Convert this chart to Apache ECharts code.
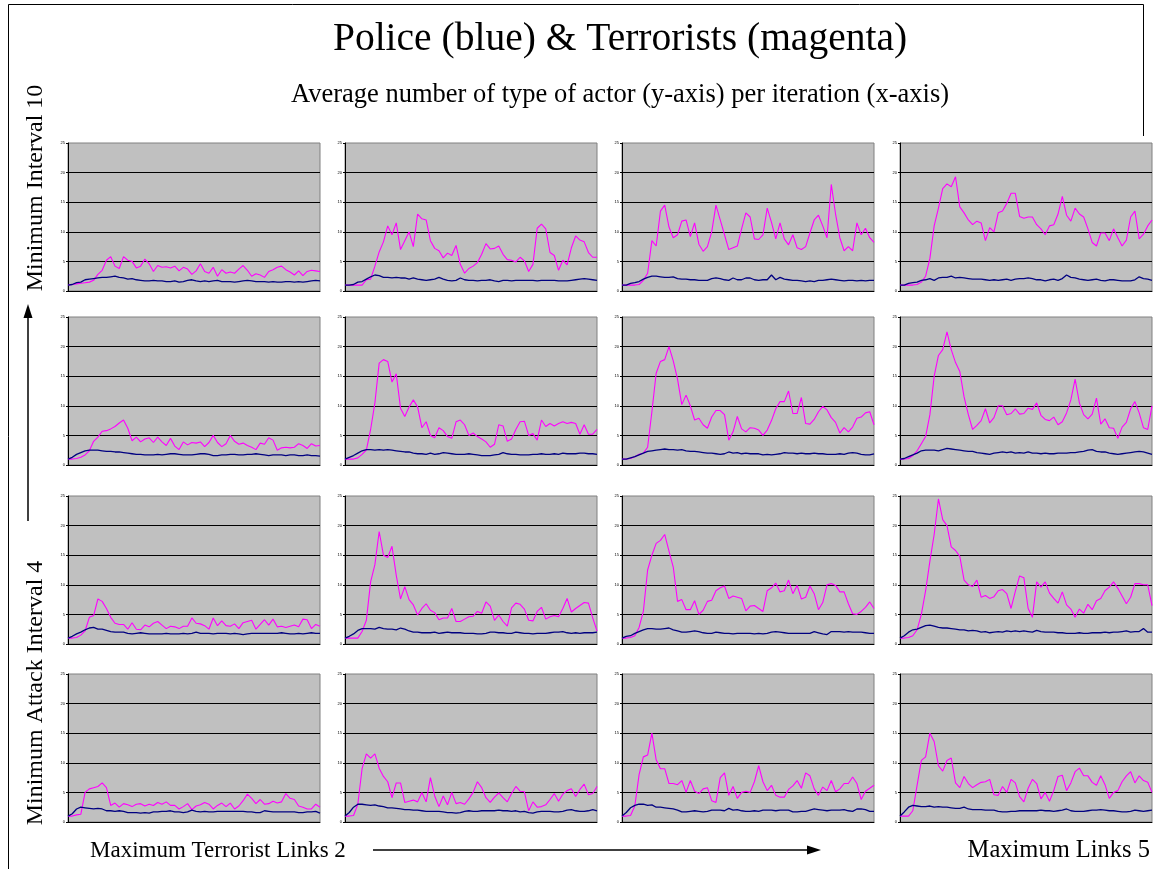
<!DOCTYPE html>
<html>
<head>
<meta charset="utf-8">
<title>Police & Terrorists</title>
<script src="https://cdn.jsdelivr.net/npm/echarts@6/dist/echarts.min.js"></script>
<style>
  html, body { margin: 0; padding: 0; background: #fff; }
  #chart { width: 1153px; height: 869px; }
</style>
</head>
<body>
<div id="chart"></div>
<script>
// y-axis ticks shared by every small chart
var yTicks = [0, 5, 10, 15, 20, 25];

// terrorists (magenta) and police (blue), rows top -> bottom, columns left -> right
var terr_r1c1 = [1.0,1.1,1.2,1.3,1.4,1.5,1.8,2.8,3.5,5.2,5.8,4.2,3.8,5.8,5.2,5.0,3.9,4.2,5.4,4.6,3.3,4.3,4.0,4.1,3.9,4.2,3.4,4.0,3.7,2.8,3.4,4.6,3.3,3.0,4.0,2.5,3.6,3.0,3.2,3.0,3.7,4.3,3.5,2.5,2.9,2.7,2.3,3.3,3.6,4.0,4.2,3.6,3.2,2.7,3.4,2.6,3.3,3.5,3.4,3.3];
var pol_r1c1 = [1.0,1.1,1.4,1.5,1.9,2.0,2.1,2.2,2.3,2.3,2.4,2.5,2.3,2.2,2.0,2.1,1.9,1.8,1.7,1.7,1.8,1.7,1.7,1.6,1.6,1.7,1.5,1.6,1.8,1.9,1.7,1.6,1.7,1.6,1.7,1.8,1.6,1.6,1.6,1.5,1.6,1.7,1.8,1.7,1.6,1.6,1.6,1.5,1.6,1.5,1.5,1.6,1.6,1.5,1.6,1.5,1.6,1.7,1.8,1.7];

var terr_r1c2 = [1.0,1.0,1.0,1.0,1.0,1.9,2.0,4.2,6.6,8.3,11.0,9.5,11.5,7.0,8.5,10.0,7.5,13.0,12.2,12.0,8.5,7.2,6.8,5.6,6.4,6.0,7.7,4.5,3.0,3.8,4.2,4.8,6.2,8.0,7.1,7.2,7.6,6.2,5.3,5.2,4.9,5.7,5.1,3.3,4.5,10.6,11.3,10.5,6.5,6.0,3.5,5.2,4.4,7.3,9.3,8.6,8.3,6.5,5.7,5.7];
var pol_r1c2 = [1.0,1.0,1.1,1.5,1.6,2.0,2.4,2.7,2.6,2.3,2.3,2.2,2.3,2.2,2.2,2.0,2.2,2.0,1.9,1.8,1.9,2.0,2.3,2.0,1.8,1.7,1.8,2.2,1.9,1.8,1.8,1.7,1.8,1.8,1.9,1.7,1.6,1.8,1.8,1.7,1.8,1.8,1.8,1.8,1.8,1.7,1.8,1.8,1.8,1.8,1.7,1.7,1.7,1.8,1.9,2.0,2.1,2.0,1.9,1.8];

var terr_r1c3 = [1.0,1.0,1.0,1.0,1.1,1.8,3.0,8.5,7.6,13.5,14.5,10.8,9.0,9.5,11.8,12.0,9.2,11.5,7.9,6.7,7.5,10.0,14.5,12.0,9.5,7.0,7.3,7.6,10.5,13.2,12.5,8.8,8.7,9.5,14.0,11.6,8.8,11.5,8.8,7.8,9.5,7.3,7.0,7.5,9.8,12.0,12.8,11.0,9.0,18.0,13.0,9.0,6.8,7.5,6.8,11.5,9.5,10.6,9.0,8.2];
var pol_r1c3 = [1.0,1.0,1.3,1.4,1.6,2.0,2.3,2.5,2.5,2.4,2.3,2.3,2.4,2.1,2.0,2.0,1.9,1.9,1.8,1.8,1.8,2.1,2.2,2.1,1.9,1.8,2.2,1.9,1.9,2.2,2.2,1.9,1.8,1.9,1.9,2.7,1.9,2.3,2.0,1.9,1.8,1.8,1.7,1.6,1.7,1.6,1.8,1.8,1.9,2.0,1.9,1.8,1.7,1.8,1.8,1.7,1.8,1.7,1.8,1.8];

var terr_r1c4 = [1.0,1.0,1.0,1.0,1.1,1.5,2.5,5.5,11.0,14.0,17.3,18.1,17.6,19.3,14.2,13.2,12.0,11.2,11.8,11.5,8.5,10.7,10.0,13.2,13.5,14.8,16.5,16.5,12.6,12.3,12.5,12.5,11.2,10.5,9.5,11.0,11.2,13.0,16.0,12.8,11.8,14.0,13.0,12.5,10.5,8.2,7.6,9.8,9.8,8.5,10.5,9.0,7.6,8.6,12.5,13.5,8.8,9.6,11.0,12.0];
var pol_r1c4 = [1.0,1.0,1.3,1.4,1.5,1.8,1.9,2.1,1.8,2.2,2.3,2.3,2.5,2.2,2.3,2.2,2.1,2.0,2.0,2.0,1.9,1.8,1.9,1.8,1.9,2.0,1.8,2.0,2.1,2.1,2.2,2.1,1.9,1.9,1.7,1.9,2.0,1.8,2.1,2.7,2.3,2.2,2.0,1.9,1.8,1.9,2.0,1.8,1.7,1.9,1.9,1.8,1.7,1.7,1.7,1.9,2.4,2.1,2.0,1.8];

var terr_r2c1 = [1.0,1.0,1.1,1.3,1.7,2.4,4.0,4.7,5.7,5.8,6.1,6.5,7.1,7.6,6.2,4.1,4.7,3.9,4.4,4.6,3.8,4.7,3.9,3.3,4.5,3.2,2.6,3.9,3.4,3.8,3.7,3.9,3.1,3.8,5.0,3.8,3.1,3.6,5.0,4.0,3.5,3.7,3.3,3.0,2.6,3.7,3.5,4.6,4.2,2.5,2.9,3.0,2.9,3.0,3.6,3.3,2.8,3.6,3.2,3.3];
var pol_r2c1 = [1.0,1.3,1.8,2.1,2.4,2.5,2.5,2.5,2.4,2.3,2.3,2.2,2.2,2.1,2.0,1.9,1.8,1.8,1.7,1.7,1.7,1.8,1.7,1.8,1.9,1.9,1.8,1.7,1.7,1.7,1.8,1.9,1.9,1.8,1.6,1.6,1.7,1.7,1.8,1.8,1.7,1.7,1.8,1.8,1.9,1.8,1.7,1.6,1.7,1.7,1.7,1.6,1.7,1.7,1.6,1.6,1.7,1.6,1.6,1.5];

var terr_r2c2 = [1.0,1.0,1.0,1.2,1.8,2.5,6.0,10.5,17.2,17.8,17.5,14.0,15.4,9.6,8.2,9.8,11.0,9.8,6.3,7.3,5.0,4.6,6.3,5.8,4.8,4.5,7.3,7.6,6.8,5.0,5.4,4.8,4.4,3.9,3.0,3.5,6.8,6.6,4.0,4.4,6.0,7.3,7.4,5.0,5.3,4.2,7.6,6.5,7.0,6.6,7.0,7.3,7.0,7.2,7.0,5.2,6.8,5.2,5.2,6.0];
var pol_r2c2 = [1.0,1.3,1.6,2.0,2.4,2.6,2.6,2.5,2.6,2.5,2.6,2.5,2.4,2.3,2.2,2.2,2.0,1.9,1.9,1.8,2.0,1.8,1.9,2.1,2.0,1.9,1.8,1.8,1.8,1.9,1.8,1.7,1.6,1.6,1.6,1.7,1.8,2.1,1.9,1.8,1.8,1.7,1.7,1.7,1.8,1.8,1.9,1.8,1.8,1.9,1.8,2.0,1.9,1.9,1.9,2.0,2.0,1.9,1.9,1.8];

var terr_r2c3 = [1.0,1.0,1.1,1.4,1.8,2.0,3.0,9.0,15.5,17.5,17.8,20.0,17.6,14.5,10.2,11.8,10.0,7.6,7.9,6.8,6.2,8.1,9.2,9.2,8.5,4.2,5.6,8.2,6.1,5.6,6.3,6.2,5.9,5.0,5.9,7.5,9.5,10.7,10.7,12.5,8.7,8.7,11.4,7.0,6.9,7.7,9.0,9.9,9.3,8.0,7.2,5.4,6.3,5.6,6.4,7.9,8.1,8.8,9.0,6.8];
var pol_r2c3 = [1.0,1.0,1.2,1.4,1.7,2.0,2.3,2.4,2.5,2.6,2.7,2.6,2.6,2.5,2.6,2.4,2.3,2.3,2.2,2.1,2.0,2.0,1.9,1.8,1.9,2.2,2.0,2.1,1.9,2.0,1.9,1.9,1.9,1.7,1.8,1.7,1.8,1.9,2.1,2.0,2.0,1.9,2.0,1.9,1.9,2.0,1.9,1.9,1.8,1.8,1.8,1.9,1.8,2.0,2.1,2.0,1.8,1.7,1.7,1.9];

var terr_r2c4 = [1.0,1.0,1.1,1.6,2.4,3.6,4.8,8.5,15.0,18.5,19.5,22.5,19.5,17.3,15.8,11.5,8.5,6.0,6.7,7.5,9.5,7.1,8.0,10.0,10.0,8.5,8.7,9.5,8.6,8.7,9.6,9.4,10.5,8.4,7.7,7.5,8.1,6.8,7.3,8.8,11.0,14.5,10.5,8.5,7.8,8.6,11.3,6.9,7.8,6.3,6.2,4.5,6.4,7.2,9.5,10.7,8.8,6.3,6.0,10.0];
var pol_r2c4 = [1.0,1.1,1.4,1.7,2.0,2.4,2.5,2.5,2.5,2.4,2.6,2.8,2.7,2.6,2.5,2.4,2.3,2.3,2.1,2.0,1.9,1.8,2.0,2.1,2.2,2.1,2.2,2.0,2.1,2.0,2.2,2.0,2.0,1.9,2.0,1.9,1.9,2.0,2.0,2.0,2.1,2.1,2.2,2.3,2.5,2.6,2.3,2.2,2.2,2.0,1.9,1.8,1.9,2.0,2.1,2.2,2.3,2.2,2.0,1.8];

var terr_r3c1 = [1.0,1.0,1.1,1.5,2.2,4.5,4.8,7.6,7.2,6.0,4.5,3.5,3.3,3.3,2.5,3.6,2.5,2.4,3.2,2.9,3.5,3.8,3.2,2.6,3.0,2.9,2.6,3.0,3.0,4.4,3.5,3.4,3.1,2.5,4.4,3.1,3.9,3.1,3.0,3.4,2.6,3.6,3.8,4.0,2.5,3.3,4.1,3.2,4.2,2.9,3.0,2.8,3.0,3.2,2.9,4.2,4.1,2.6,3.3,3.0];
var pol_r3c1 = [1.0,1.3,1.7,2.0,2.4,2.7,2.8,2.5,2.5,2.3,2.1,2.0,2.0,2.0,1.8,1.7,1.8,1.9,1.8,1.7,1.7,1.7,1.7,1.8,1.7,1.7,1.7,1.8,1.7,1.8,2.0,1.8,1.8,1.8,1.7,1.8,1.8,1.8,1.7,1.8,1.7,1.6,1.7,1.8,1.8,1.8,1.8,1.8,1.8,1.8,1.9,1.8,1.7,1.7,1.8,1.7,1.8,1.9,1.8,1.8];

var terr_r3c2 = [1.0,1.0,1.0,1.0,2.1,4.0,10.5,13.4,19.0,15.0,14.6,16.5,11.6,7.6,9.7,7.5,6.6,4.9,6.0,6.8,5.7,5.3,4.1,4.4,4.4,6.0,3.8,3.8,4.2,4.6,4.7,5.5,5.2,7.1,6.4,4.0,4.9,3.8,3.0,6.1,6.9,6.7,5.9,4.0,3.9,5.5,6.2,4.2,4.6,4.8,4.6,6.0,7.7,5.4,6.0,6.5,7.0,6.9,4.4,2.2];
var pol_r3c2 = [1.0,1.3,1.7,2.3,2.6,2.6,2.6,2.5,2.8,2.6,2.5,2.5,2.4,2.7,2.5,2.2,2.0,2.0,1.9,1.9,1.9,2.0,1.8,1.9,2.0,1.9,1.9,1.9,1.8,1.8,1.8,1.7,1.7,1.8,2.0,2.0,1.9,1.9,1.8,1.8,2.0,1.9,1.8,1.8,1.7,1.8,1.8,1.8,1.9,2.0,2.0,2.1,1.9,1.8,1.9,1.8,1.9,1.9,1.9,2.0];

var terr_r3c3 = [1.0,1.0,1.1,1.4,2.8,5.5,12.5,15.0,17.0,17.5,18.5,15.7,13.0,7.2,7.5,5.8,5.8,7.3,5.0,5.7,7.2,7.4,9.0,9.5,9.8,7.7,8.1,7.9,7.7,5.6,6.4,6.5,6.0,5.5,9.0,9.5,10.3,8.8,9.0,10.8,8.5,9.9,7.6,7.9,9.8,8.5,5.8,7.0,10.0,10.2,9.9,8.8,8.8,6.8,5.1,5.0,5.5,6.2,7.1,6.0];
var pol_r3c3 = [1.0,1.3,1.4,1.8,2.1,2.4,2.6,2.6,2.5,2.5,2.6,2.7,2.4,2.2,2.0,2.0,2.1,2.2,2.1,1.9,1.8,1.8,2.0,1.9,1.8,1.8,1.7,1.8,1.8,1.8,1.8,1.7,1.8,1.7,1.8,2.0,2.1,2.0,1.9,1.8,1.8,1.8,1.8,1.8,1.8,2.1,1.9,1.7,1.6,2.1,2.1,2.1,2.0,2.1,2.0,2.0,2.0,1.9,1.8,1.8];

var terr_r3c4 = [1.0,1.0,1.1,1.4,2.4,5.0,9.0,14.0,18.5,24.5,21.0,20.0,16.4,15.8,14.8,10.8,10.0,9.7,10.8,7.9,8.2,7.7,8.0,9.0,9.2,8.5,6.0,8.9,11.5,11.2,6.0,4.5,10.5,9.6,10.5,8.6,7.7,6.9,8.8,6.6,5.9,4.5,5.9,5.2,6.7,5.8,7.3,7.7,9.0,9.6,10.5,9.4,8.1,6.8,7.9,10.2,10.2,10.0,10.0,6.5];
var pol_r3c4 = [1.0,1.4,2.0,2.4,2.5,2.8,3.1,3.2,3.0,2.8,2.7,2.7,2.6,2.5,2.4,2.4,2.2,2.3,2.2,2.0,2.1,1.9,2.0,2.1,2.0,2.2,2.1,2.2,2.1,2.2,2.1,2.0,2.3,2.1,2.0,2.0,2.0,1.9,1.9,1.8,1.8,1.8,1.9,1.8,1.8,1.9,1.9,1.9,2.0,1.9,2.0,2.0,2.1,2.2,2.0,2.1,2.1,2.6,2.0,2.0];

var terr_r4c1 = [1.0,1.0,1.2,1.3,5.0,5.6,5.8,6.0,6.6,5.8,2.8,3.2,2.5,3.1,2.9,2.6,3.0,3.1,2.7,3.0,2.8,3.3,3.0,3.4,2.8,2.8,2.2,2.6,3.1,2.1,2.7,2.9,3.3,3.0,2.2,2.8,3.2,2.6,3.2,2.2,2.7,3.6,4.7,4.0,3.1,3.8,3.0,3.1,3.5,3.2,3.4,4.8,4.0,3.8,2.7,2.5,2.2,2.2,3.0,2.5];
var pol_r4c1 = [1.0,1.4,2.2,2.5,2.4,2.3,2.2,2.3,2.2,1.9,1.9,1.8,1.9,1.8,1.6,1.6,1.6,1.5,1.6,1.5,1.7,1.7,1.8,1.8,1.9,1.7,1.7,1.6,1.7,2.0,1.8,1.7,1.8,1.7,1.7,1.8,1.8,1.8,1.8,1.8,1.8,1.8,1.7,1.7,1.6,1.6,1.9,1.8,1.7,1.7,1.7,1.7,1.7,1.7,1.6,1.6,1.7,1.7,1.8,1.5];

var terr_r4c2 = [1.0,1.0,1.1,3.0,9.0,11.5,10.8,11.5,9.1,7.7,6.8,4.1,6.6,6.6,3.3,3.5,3.7,3.4,5.0,3.4,7.5,4.4,2.6,4.4,2.9,5.0,3.1,3.3,3.0,3.9,5.0,6.8,5.8,4.1,3.3,4.2,4.9,4.1,3.4,4.8,6.0,5.2,5.1,1.9,3.4,2.5,2.6,2.9,3.8,4.8,3.5,4.7,5.3,5.6,4.3,5.5,6.4,4.6,4.8,6.0];
var pol_r4c2 = [1.0,1.6,2.5,3.0,3.0,2.9,2.8,2.9,2.7,2.6,2.4,2.4,2.3,2.2,2.1,2.1,2.0,2.0,1.9,1.8,1.8,1.8,1.8,1.7,1.6,1.6,1.5,1.6,1.8,1.9,1.8,1.8,1.9,1.9,1.9,1.9,2.0,1.9,1.9,1.8,1.9,1.7,1.8,1.6,1.5,1.7,1.8,1.8,1.8,1.7,1.7,1.8,2.0,2.1,1.9,1.8,1.8,1.9,2.1,1.9];

var terr_r4c3 = [1.0,1.0,1.1,2.7,8.0,11.0,11.3,15.0,10.5,9.0,9.0,6.5,6.5,6.3,7.0,5.0,7.0,5.2,4.8,5.6,5.8,3.6,3.3,7.5,8.3,4.5,6.0,4.0,5.0,5.2,5.0,6.8,9.5,6.8,5.3,6.2,4.5,4.2,4.2,5.5,6.1,7.0,5.7,8.3,7.8,5.6,4.5,5.9,5.3,7.0,5.1,5.6,6.5,6.5,7.6,6.5,3.8,5.2,5.7,6.2];
var pol_r4c3 = [1.0,1.6,2.4,2.8,3.0,3.0,2.8,2.9,2.5,2.5,2.4,2.3,2.2,2.0,1.7,1.7,1.8,1.9,1.8,1.7,1.8,2.0,2.0,2.0,1.9,2.3,2.0,2.1,1.9,1.8,1.8,1.9,1.8,2.0,2.0,2.0,1.9,2.0,2.0,2.0,1.7,1.7,1.8,1.8,2.0,2.2,2.1,2.0,1.9,2.0,2.0,2.0,2.1,1.9,1.8,2.2,2.2,2.1,1.8,1.8];

var terr_r4c4 = [1.0,1.0,1.0,1.9,6.2,10.4,11.0,15.0,13.6,9.5,8.6,10.4,10.8,6.6,5.8,7.7,6.5,5.8,6.3,6.7,6.8,7.2,4.6,4.5,6.0,5.0,7.2,6.6,4.3,3.4,5.7,7.2,6.5,3.9,5.0,3.5,5.3,7.7,7.9,5.3,6.6,8.5,9.1,7.8,7.8,6.7,6.2,7.8,6.3,4.0,5.0,5.3,6.8,7.8,8.5,6.6,7.8,7.0,6.7,5.0];
var pol_r4c4 = [1.0,1.7,2.5,2.8,2.7,2.6,2.6,2.7,2.5,2.6,2.5,2.5,2.4,2.3,2.3,2.5,2.2,2.1,2.1,2.1,2.0,2.0,2.0,1.8,1.7,1.7,1.8,1.8,1.9,1.9,1.9,1.9,1.9,2.0,1.9,1.9,1.8,1.9,2.0,2.2,1.9,1.8,1.8,1.8,1.9,2.0,2.0,2.1,2.0,1.9,1.9,1.8,1.7,1.7,1.8,2.0,1.9,1.8,1.9,2.0];

var terrRows = [
    [terr_r1c1, terr_r1c2, terr_r1c3, terr_r1c4],
    [terr_r2c1, terr_r2c2, terr_r2c3, terr_r2c4],
    [terr_r3c1, terr_r3c2, terr_r3c3, terr_r3c4],
    [terr_r4c1, terr_r4c2, terr_r4c3, terr_r4c4]
];
var polRows = [
    [pol_r1c1, pol_r1c2, pol_r1c3, pol_r1c4],
    [pol_r2c1, pol_r2c2, pol_r2c3, pol_r2c4],
    [pol_r3c1, pol_r3c2, pol_r3c3, pol_r3c4],
    [pol_r4c1, pol_r4c2, pol_r4c3, pol_r4c4]
];

// iteration index for the category axis
var iterations = terr_r1c1.map(function (v, i) { return i; });

// panel layout (px)
var colLeft = [68, 345, 622, 900];
var rowTop = [143, 317, 496, 674];
var panelW = 252;
var panelH = 148;

var SERIF = '"Liberation Serif", "Times New Roman", serif';

var grids = [], xAxes = [], yAxes = [], series = [];

for (var r = 0; r < 4; r++) {
    for (var c = 0; c < 4; c++) {
        var idx = grids.length;
        grids.push({
            left: colLeft[c],
            top: rowTop[r],
            width: panelW,
            height: panelH,
            show: true,
            backgroundColor: '#C0C0C0',
            borderColor: '#808080',
            borderWidth: 1
        });
        xAxes.push({
            type: 'category',
            gridIndex: idx,
            data: iterations,
            boundaryGap: false,
            axisLine: { show: true, onZero: false, lineStyle: { color: '#000', width: 1 } },
            axisTick: { show: false },
            axisLabel: { show: false },
            splitLine: { show: false }
        });
        yAxes.push({
            type: 'value',
            gridIndex: idx,
            min: yTicks[0],
            max: yTicks[yTicks.length - 1],
            interval: 5,
            axisLine: { show: true, lineStyle: { color: '#000', width: 1 } },
            axisTick: { show: true, length: 2, lineStyle: { color: '#000' } },
            axisLabel: { fontSize: 4, color: '#000', margin: 3, fontFamily: 'Arial, sans-serif' },
            splitLine: { show: true, showMaxLine: false, lineStyle: { color: '#000', width: 1 } }
        });
        series.push({
            type: 'line',
            xAxisIndex: idx,
            yAxisIndex: idx,
            data: terrRows[r][c],
            showSymbol: false,
            lineStyle: { color: '#FF00FF', width: 1.1 },
            silent: true
        });
        series.push({
            type: 'line',
            xAxisIndex: idx,
            yAxisIndex: idx,
            data: polRows[r][c],
            showSymbol: false,
            lineStyle: { color: '#000080', width: 1.3 },
            silent: true
        });
    }
}

var graphics = [
    // frame
    { type: 'polyline', shape: { points: [[8.5, 869], [8.5, 4.5], [1143.5, 4.5], [1143.5, 136]] },
      style: { stroke: '#000', lineWidth: 1, fill: null } },
    // titles
    { type: 'text', x: 620, y: 40, style: { text: 'Police (blue) & Terrorists (magenta)', font: '39.5px ' + SERIF, fill: '#000', textAlign: 'center', textVerticalAlign: 'middle' } },
    { type: 'text', x: 620, y: 95, style: { text: 'Average number of type of actor (y-axis) per iteration (x-axis)', font: '26.5px ' + SERIF, fill: '#000', textAlign: 'center', textVerticalAlign: 'middle' } },
    // row labels
    { type: 'text', x: 36, y: 188, rotation: Math.PI / 2, style: { text: 'Minimum Interval 10', font: '24px ' + SERIF, fill: '#000', textAlign: 'center', textVerticalAlign: 'middle' } },
    { type: 'text', x: 36, y: 693, rotation: Math.PI / 2, style: { text: 'Minimum Attack Interval 4', font: '24px ' + SERIF, fill: '#000', textAlign: 'center', textVerticalAlign: 'middle' } },
    // vertical arrow
    { type: 'line', shape: { x1: 28, y1: 521, x2: 28, y2: 316 }, style: { stroke: '#000', lineWidth: 1.5 } },
    { type: 'polygon', shape: { points: [[28, 304], [23.5, 318], [32.5, 318]] }, style: { fill: '#000' } },
    // column labels
    { type: 'text', x: 90, y: 851, style: { text: 'Maximum Terrorist Links 2', font: '23px ' + SERIF, fill: '#000', textAlign: 'left', textVerticalAlign: 'middle' } },
    { type: 'text', x: 1150, y: 851, style: { text: 'Maximum Links 5', font: '24.5px ' + SERIF, fill: '#000', textAlign: 'right', textVerticalAlign: 'middle' } },
    // horizontal arrow
    { type: 'line', shape: { x1: 373, y1: 850, x2: 808, y2: 850 }, style: { stroke: '#000', lineWidth: 1.5 } },
    { type: 'polygon', shape: { points: [[821, 850], [807, 845.5], [807, 854.5]] }, style: { fill: '#000' } }
];

var chart = echarts.init(document.getElementById('chart'), null, { renderer: 'canvas' });
chart.setOption({
    animation: false,
    backgroundColor: '#fff',
    grid: grids,
    xAxis: xAxes,
    yAxis: yAxes,
    series: series,
    graphic: graphics
});
</script>
</body>
</html>
